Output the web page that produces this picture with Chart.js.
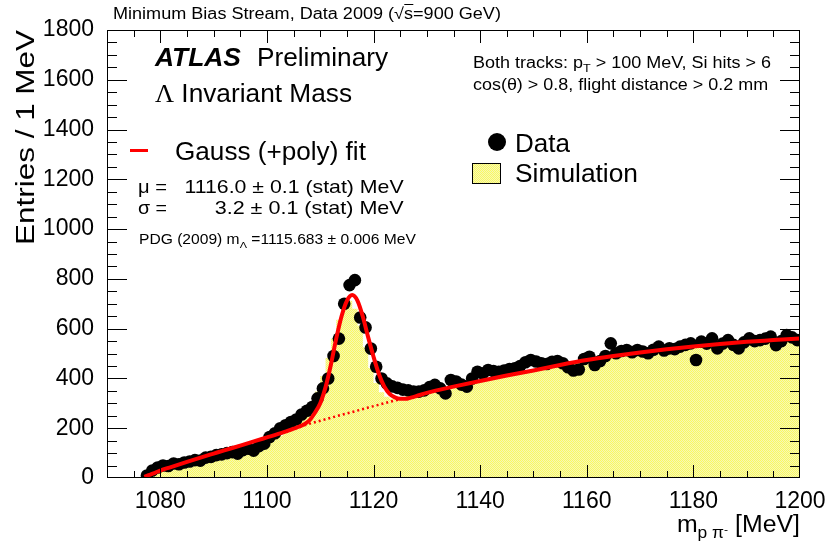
<!DOCTYPE html>
<html>
<head>
<meta charset="utf-8">
<script src="https://cdn.jsdelivr.net/npm/chart.js@4.4.0/dist/chart.umd.min.js"></script>
<style>
  html, body { margin: 0; padding: 0; background: #fff; }
  #wrap { position: relative; width: 831px; height: 546px; overflow: hidden; }
  #c { position: absolute; left: 0; top: 0; }
  .t { position: absolute; white-space: nowrap; line-height: 1; color: #000;
       font-family: "Liberation Sans", Arial, Helvetica, sans-serif; transform-origin: left top; }
  .t.r { transform-origin: right top; }
  .sub { position: relative; top: 0.35em; font-size: 0.7em; line-height: 0; }
  .sup { position: relative; top: -0.45em; font-size: 0.7em; line-height: 0; }
  .serif { font-family: "Liberation Serif", "DejaVu Serif", serif; }
  #ytitle { position: absolute; white-space: nowrap; line-height: 1;
            font-family: "Liberation Sans", Arial, sans-serif; transform-origin: left top; }
  .key-line { position: absolute; left: 130px; top: 149px; width: 18px; height: 3px; background: #ff0000; }
  .key-dot { position: absolute; left: 488px; top: 133px; width: 18px; height: 18px; border-radius: 50%; background: #000; }
  .key-box { position: absolute; left: 472px; top: 163px; width: 27px; height: 19px; border: 1px solid #000;
             background: repeating-conic-gradient(#fafa60 0 25%, #f6f6b8 0 50%) 0 0 / 2px 2px; }
</style>
</head>
<body>
<div id="wrap">
  <canvas id="c" width="831" height="546"></canvas>

  <div class="t" data-x="113" data-y="8" data-fs="16" data-w="388">Minimum Bias Stream, Data 2009 (<span>√</span><span style="border-top:1px solid #000">s</span>=900 GeV)</div>
  <div class="t" data-x="155" data-y="48" data-fs="25" data-w="86" style="font-weight:bold;font-style:italic">ATLAS</div>
  <div class="t" data-x="257" data-y="48" data-fs="25" data-w="131">Preliminary</div>
  <div class="t" data-x="155" data-y="84" data-fs="25" data-w="197"><span class="serif">Λ</span> Invariant Mass</div>

  <div class="t" data-x="473" data-y="57" data-fs="16" data-w="298">Both tracks: p<span class="sub">T</span> &gt; 100 MeV, Si hits &gt; 6</div>
  <div class="t" data-x="473" data-y="79" data-fs="16" data-w="295">cos(θ) &gt; 0.8, flight distance &gt; 0.2 mm</div>

  <div class="key-line"></div>
  <div class="t" data-x="175" data-y="142" data-fs="25" data-w="191">Gauss (+poly) fit</div>
  <div class="t" data-x="138" data-y="179" data-fs="19" data-w="29">μ =</div>
  <div class="t r" data-x="404" data-y="179" data-fs="19" data-w="219">1116.0 ± 0.1 (stat) MeV</div>
  <div class="t" data-x="138" data-y="200" data-fs="19" data-w="29">σ =</div>
  <div class="t r" data-x="404" data-y="200" data-fs="19" data-w="189">3.2 ± 0.1 (stat) MeV</div>
  <div class="t" data-x="139" data-y="234" data-fs="14" data-w="277">PDG (2009) m<span class="sub">Λ</span> =1115.683 ± 0.006 MeV</div>

  <div class="key-dot"></div>
  <div class="t" data-x="515" data-y="134" data-fs="25" data-w="55">Data</div>
  <div class="key-box"></div>
  <div class="t" data-x="515" data-y="164" data-fs="25" data-w="123">Simulation</div>

  <div class="t r" data-x="800" data-y="516" data-fs="23" data-w="123">m<span class="sub">p π<span class="sup">-</span></span> [MeV]</div>
  <div id="ytitle">Entries / 1 MeV</div>
</div>

<script>
// Λ -> p π- invariant mass, 1 MeV bins starting at 1077 MeV
const binStart = 1077;
const binWidth = 1;

// data entries per bin (bins 1077-1078 ... 1199-1200)
const dataCounts = [
  10, 30, 42, 50, 48, 58, 55, 62, 66, 72,
  70, 82, 85, 92, 95, 100, 104, 98, 112, 118,
  110, 128, 138, 165, 180, 200, 212, 225, 235, 255,
  270, 285, 320, 360, 400, 490, 560, 700, 775, 795,
  645, 605, 520, 447, 400, 380, 368, 362, 355, 352,
  347, 347, 352, 365, 374, 360, 340, 394, 388, 375,
  367, 400, 427, 420, 434, 430, 427, 432, 438, 441,
  450, 465, 474, 468, 461, 458, 467, 470, 461, 445,
  432, 436, 478, 487, 454, 470, 490, 541, 501, 510,
  514, 505, 514, 508, 501, 515, 528, 512, 521, 518,
  528, 535, 541, 474, 548, 540, 561, 521, 540, 554,
  535, 521, 545, 561, 550, 554, 560, 568, 534, 550,
  574, 565, 554
];

// simulation (MC) entries per bin, same binning
const simCounts = [
  5, 14, 22, 27, 33, 36, 41, 44, 49, 53,
  57, 63, 66, 72, 77, 81, 87, 91, 97, 103,
  110, 117, 126, 135, 146, 157, 170, 184, 199, 217,
  238, 266, 302, 348, 410, 482, 560, 636, 695, 712,
  680, 612, 525, 442, 382, 345, 326, 318, 320, 324,
  329, 334, 340, 345, 351, 355, 361, 365, 371, 374,
  379, 383, 388, 391, 396, 400, 404, 409, 412, 416,
  421, 424, 429, 432, 437, 440, 444, 448, 451, 455,
  458, 462, 466, 468, 472, 476, 478, 482, 485, 487,
  491, 493, 497, 498, 502, 503, 507, 508, 512, 513,
  516, 518, 521, 522, 525, 526, 529, 530, 532, 533,
  536, 537, 539, 540, 542, 543, 545, 545, 547, 548,
  550, 550, 552
];

// Gauss + polynomial fit curve
const fitMass = [1077, 1078, 1079, 1080, 1082, 1085, 1088, 1090, 1092, 1095,
  1098, 1100, 1102, 1104, 1105, 1106, 1107, 1108, 1109, 1110,
  1111, 1112, 1113, 1114, 1115, 1116, 1117, 1118, 1119, 1120,
  1121, 1122, 1123, 1124, 1125, 1126, 1127, 1128, 1130, 1135,
  1140, 1145, 1150, 1155, 1160, 1165, 1170, 1175, 1180, 1185,
  1190, 1195, 1200];
const fitValues = [5, 13, 21, 30, 44, 65, 85, 98, 111, 130,
  150, 163, 176, 190, 198, 206, 216, 232, 262, 300,
  365, 455, 560, 650, 712, 735, 712, 648, 565, 487,
  418, 368, 338, 324, 318, 318, 323, 329, 342, 367,
  390, 412, 432, 454, 474, 490, 504, 517, 528, 538,
  547, 554, 561];

// polynomial background under the peak (dotted)
const bgMass = [1107, 1110, 1113, 1116, 1119, 1122, 1125];
const bgValues = [212, 230, 248, 265, 283, 300, 317];

const xTickValues = [1080, 1100, 1120, 1140, 1160, 1180, 1200];
const yTickValues = [0, 200, 400, 600, 800, 1000, 1200, 1400, 1600, 1800];

const xMin = 1070, xMax = 1200, yMin = 0, yMax = 1800;

const canvas = document.getElementById('c');
const ctx = canvas.getContext('2d');

function makeHatch() {
    const p = document.createElement('canvas');
    p.width = 2; p.height = 2;
    const g = p.getContext('2d');
    g.fillStyle = '#f6f6b8';
    g.fillRect(0, 0, 2, 2);
    g.fillStyle = '#fafa60';
    g.fillRect(0, 0, 1, 1);
    g.fillRect(1, 1, 1, 1);
    return ctx.createPattern(p, 'repeat');
}

const dataPoints = dataCounts.map((v, i) => ({ x: binStart + (i + 0.5) * binWidth, y: v }));
// histogram as steps over the bin edges
const simSteps = simCounts.map((v, i) => ({ x: binStart + i * binWidth, y: v }));
simSteps.push({ x: binStart + simCounts.length * binWidth, y: simCounts[simCounts.length - 1] });
const fitPoints = fitMass.map((m, i) => ({ x: m, y: fitValues[i] }));
const bgPoints = bgMass.map((m, i) => ({ x: m, y: bgValues[i] }));

// frame and ROOT-style inner ticks on all four sides
const frameTicks = {
    id: 'frameTicks',
    afterDatasetsDraw(chart) {
        const { ctx, chartArea: a, scales: { x, y } } = chart;
        ctx.save();
        ctx.strokeStyle = '#000';
        ctx.lineWidth = 1;
        ctx.beginPath();
        for (let v = 1075; v < xMax; v += 5) {
            const px = Math.round(x.getPixelForValue(v)) + 0.5;
            const len = v % 20 === 0 ? 13 : 7;
            ctx.moveTo(px, a.bottom); ctx.lineTo(px, a.bottom - len);
            ctx.moveTo(px, a.top); ctx.lineTo(px, a.top + len);
        }
        for (let v = 50; v < yMax; v += 50) {
            const py = Math.round(y.getPixelForValue(v)) + 0.5;
            const len = v % 200 === 0 ? 20 : 10;
            ctx.moveTo(a.left, py); ctx.lineTo(a.left + len, py);
            ctx.moveTo(a.right, py); ctx.lineTo(a.right - len, py);
        }
        ctx.stroke();
        ctx.strokeRect(Math.round(a.left) + 0.5, Math.round(a.top) + 0.5,
            Math.round(a.right - a.left) - 1, Math.round(a.bottom - a.top) - 1);
        ctx.restore();
    }
};

const tickFont = { family: '"Liberation Sans", Arial, sans-serif', size: 23 };

new Chart(ctx, {
    type: 'line',
    data: {
        datasets: [
            {
                label: 'Gauss (+poly) fit',
                data: fitPoints,
                borderColor: '#ff0000',
                borderWidth: 4,
                pointRadius: 0,
                cubicInterpolationMode: 'monotone',
                fill: false,
                order: 0
            },
            {
                label: 'background',
                data: bgPoints,
                borderColor: '#ff0000',
                borderWidth: 2.5,
                borderDash: [2, 3],
                pointRadius: 0,
                fill: false,
                order: 1
            },
            {
                label: 'Data',
                data: dataPoints,
                showLine: false,
                pointRadius: 6.3,
                pointBackgroundColor: '#000',
                pointBorderColor: '#000',
                pointBorderWidth: 0,
                order: 2
            },
            {
                label: 'Simulation',
                data: simSteps,
                stepped: 'after',
                borderColor: 'rgba(0,0,0,0)',
                borderWidth: 0,
                backgroundColor: makeHatch(),
                pointRadius: 0,
                fill: 'origin',
                order: 3
            }
        ]
    },
    options: {
        responsive: false,
        animation: false,
        devicePixelRatio: 1,
        layout: { padding: { top: 30, right: 31, left: 0, bottom: 0 } },
        plugins: {
            legend: { display: false },
            tooltip: { enabled: false }
        },
        scales: {
            x: {
                type: 'linear',
                min: xMin,
                max: xMax,
                grid: { display: false },
                border: { display: false },
                afterBuildTicks: s => { s.ticks = xTickValues.map(v => ({ value: v })); },
                afterFit: s => { s.height = 68; },
                ticks: { color: '#000', font: tickFont, padding: 2, maxRotation: 0, callback: v => v }
            },
            y: {
                min: yMin,
                max: yMax,
                grid: { display: false },
                border: { display: false },
                afterBuildTicks: s => { s.ticks = yTickValues.map(v => ({ value: v })); },
                afterFit: s => { s.width = 107; },
                ticks: { color: '#000', font: tickFont, padding: 5, callback: v => v }
            }
        }
    },
    plugins: [frameTicks]
});

// place the annotation texts, stretched to the widths seen in the original
document.querySelectorAll('.t').forEach(el => {
    const fs = +el.dataset.fs;
    el.style.fontSize = fs + 'px';
    el.style.top = (+el.dataset.y - 0.13 * fs) + 'px';
    const w = el.getBoundingClientRect().width;
    const k = (+el.dataset.w) / w;
    if (el.classList.contains('r')) {
        el.style.left = (+el.dataset.x - w) + 'px';
    } else {
        el.style.left = el.dataset.x + 'px';
    }
    el.style.transform = 'scaleX(' + k.toFixed(3) + ')';
});

// y axis title, rotated, top aligned with the frame
const yt = document.getElementById('ytitle');
yt.style.fontSize = '26px';
const ytw = yt.getBoundingClientRect().width;
const yk = 215 / ytw;
yt.style.left = '12px';
yt.style.top = '30px';
yt.style.transform = 'translate(0px, 215px) rotate(-90deg) scaleX(' + yk.toFixed(3) + ')';
</script>
</body>
</html>
